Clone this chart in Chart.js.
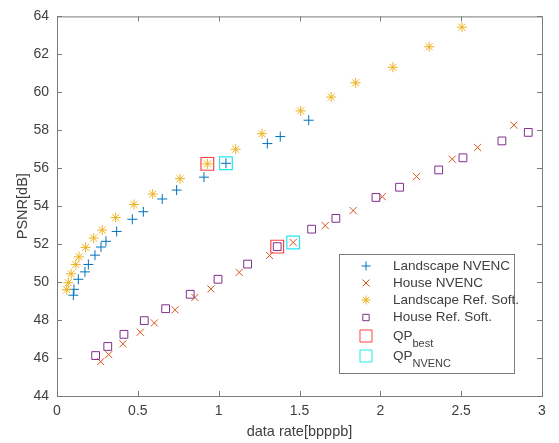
<!DOCTYPE html>
<html>
<head>
<meta charset="utf-8">
<script src="https://cdn.jsdelivr.net/npm/chart.js@4/dist/chart.umd.min.js"></script>
<style>
  html, body { margin: 0; padding: 0; background: #fff; }
  #wrap { width: 559px; height: 443px; }
</style>
</head>
<body>
<div id="wrap"><canvas id="c" width="559" height="443"></canvas></div>
<script>
// values
const landNvencX = [0.101, 0.105, 0.132, 0.173, 0.194, 0.235, 0.272, 0.303, 0.369, 0.466, 0.534, 0.651, 0.740, 0.909, 1.045, 1.301, 1.381, 1.557];
const landNvencY = [49.31, 49.62, 50.15, 50.54, 50.93, 51.42, 51.85, 52.15, 52.67, 53.31, 53.71, 54.38, 54.85, 55.53, 56.26, 57.30, 57.67, 58.53];

const houseNvencX = [0.270, 0.320, 0.408, 0.515, 0.602, 0.730, 0.853, 0.952, 1.127, 1.315, 1.461, 1.659, 1.832, 2.012, 2.224, 2.445, 2.602, 2.826];
const houseNvencY = [45.81, 46.18, 46.75, 47.36, 47.85, 48.54, 49.19, 49.64, 50.51, 51.40, 52.09, 52.98, 53.77, 54.50, 55.56, 56.48, 57.09, 58.27];

const landRefX = [0.060, 0.070, 0.087, 0.116, 0.136, 0.177, 0.227, 0.280, 0.363, 0.476, 0.592, 0.761, 0.930, 1.105, 1.268, 1.507, 1.696, 1.847, 2.078, 2.302, 2.505];
const landRefY = [49.60, 49.97, 50.44, 50.93, 51.33, 51.83, 52.32, 52.74, 53.40, 54.09, 54.64, 55.45, 56.23, 57.00, 57.82, 59.02, 59.75, 60.50, 61.32, 62.40, 63.43];

const houseRefX = [0.239, 0.314, 0.414, 0.540, 0.672, 0.824, 0.996, 1.179, 1.362, 1.575, 1.725, 1.973, 2.119, 2.361, 2.511, 2.752, 2.915];
const houseRefY = [46.13, 46.61, 47.25, 47.97, 48.60, 49.36, 50.15, 50.95, 51.87, 52.79, 53.36, 54.46, 55.00, 55.91, 56.55, 57.44, 57.89];

const qpBestX = [0.930, 1.362];
const qpBestY = [56.23, 51.87];
const qpNvencX = [1.045, 1.461];
const qpNvencY = [56.26, 52.09];

const xTicks = [0, 0.5, 1, 1.5, 2, 2.5, 3];
const yTicks = [44, 46, 48, 50, 52, 54, 56, 58, 60, 62, 64];

const FONT = "'Liberation Sans', Arial, Helvetica, sans-serif";
const TEXT = "#404040";
const AXIS = "#7a7a7a";

function pts(xs, ys) {
  return xs.map((x, i) => ({ x, y: ys[i] }));
}

// legend entries: label, optional subscript, marker style
const legendItems = [
  { label: "Landscape NVENC", style: "cross", color: "#0072BD", r: 4.5 },
  { label: "House NVENC", style: "crossRot", color: "#D95319", r: 5 },
  { label: "Landscape Ref. Soft.", style: "star", color: "#EDB120", r: 4.5 },
  { label: "House Ref. Soft.", style: "rect", color: "#7E2F8E", r: 4.5 },
  { label: "QP", sub: "best", style: "rect", color: "#ff4040", r: 8.5 },
  { label: "QP", sub: "NVENC", style: "rect", color: "#20e8f0", r: 8.5 },
];

function drawMarker(ctx, style, color, r, x, y, lw) {
  ctx.save();
  ctx.strokeStyle = color;
  ctx.fillStyle = "rgba(0,0,0,0)";
  ctx.lineWidth = lw || 1;
  Chart.helpers.drawPoint(ctx, { pointStyle: style, radius: r, rotation: 0, borderWidth: lw || 1 }, x, y);
  ctx.restore();
}

// axes box with inward ticks on all four sides (matlab look)
const boxPlugin = {
  id: "box",
  afterDatasetsDraw(chart) {
    const { ctx, chartArea: a, scales } = chart;
    ctx.save();
    ctx.strokeStyle = AXIS;
    ctx.lineWidth = 1;
    ctx.strokeRect(a.left + 0.5, a.top + 0.5, a.right - a.left, a.bottom - a.top);
    const tl = 5;
    ctx.beginPath();
    xTicks.forEach((v) => {
      const px = Math.round(scales.x.getPixelForValue(v)) + 0.5;
      ctx.moveTo(px, a.bottom); ctx.lineTo(px, a.bottom - tl);
      ctx.moveTo(px, a.top); ctx.lineTo(px, a.top + tl);
    });
    yTicks.forEach((v) => {
      const py = Math.round(scales.y.getPixelForValue(v)) + 0.5;
      ctx.moveTo(a.left, py); ctx.lineTo(a.left + tl, py);
      ctx.moveTo(a.right, py); ctx.lineTo(a.right - tl, py);
    });
    ctx.stroke();
    ctx.restore();
  },
};

const legendPlugin = {
  id: "boxLegend",
  afterDraw(chart) {
    const { ctx } = chart;
    const bx = 339, by = 254, bw = 175, bh = 119;
    ctx.save();
    ctx.fillStyle = "#fff";
    ctx.fillRect(bx, by, bw, bh);
    ctx.strokeStyle = AXIS;
    ctx.lineWidth = 1;
    ctx.strokeRect(bx + 0.5, by + 0.5, bw, bh);
    const rows = [266, 283, 300, 317.5, 336, 356];
    legendItems.forEach((it, i) => {
      const y = rows[i];
      drawMarker(ctx, it.style, it.color, it.r, 366, y, 1);
      ctx.fillStyle = TEXT;
      ctx.textBaseline = "middle";
      ctx.textAlign = "left";
      ctx.font = "13.5px " + FONT;
      ctx.fillText(it.label, 393, y);
      if (it.sub) {
        const w = ctx.measureText(it.label).width;
        ctx.font = "11px " + FONT;
        ctx.fillText(it.sub, 393 + w, y + 8);
      }
    });
    ctx.restore();
  },
};

new Chart(document.getElementById("c"), {
  type: "scatter",
  data: {
    datasets: [
      { label: "Landscape NVENC", data: pts(landNvencX, landNvencY), pointStyle: "cross", pointRadius: 5, borderColor: "#0072BD", backgroundColor: "rgba(0,0,0,0)", pointBorderWidth: 1, order: 6 },
      { label: "House NVENC", data: pts(houseNvencX, houseNvencY), pointStyle: "crossRot", pointRadius: 5, borderColor: "#D95319", backgroundColor: "rgba(0,0,0,0)", pointBorderWidth: 1, order: 5 },
      { label: "Landscape Ref. Soft.", data: pts(landRefX, landRefY), pointStyle: "star", pointRadius: 5, borderColor: "#EDB120", backgroundColor: "rgba(0,0,0,0)", pointBorderWidth: 1, order: 4 },
      { label: "House Ref. Soft.", data: pts(houseRefX, houseRefY), pointStyle: "rect", pointRadius: 5.5, borderColor: "#7E2F8E", backgroundColor: "rgba(0,0,0,0)", pointBorderWidth: 1, order: 3 },
      { label: "QP best", data: pts(qpBestX, qpBestY), pointStyle: "rect", pointRadius: 9, borderColor: "#ff4040", backgroundColor: "rgba(0,0,0,0)", pointBorderWidth: 1.2, order: 2 },
      { label: "QP NVENC", data: pts(qpNvencX, qpNvencY), pointStyle: "rect", pointRadius: 9, borderColor: "#20e8f0", backgroundColor: "rgba(0,0,0,0)", pointBorderWidth: 1.2, order: 1 },
    ],
  },
  options: {
    responsive: false,
    animation: false,
    events: [],
    layout: { padding: { left: 0, right: 17, top: 13, bottom: 0 } },
    plugins: { legend: { display: false }, tooltip: { enabled: false } },
    scales: {
      x: {
        type: "linear",
        min: 0,
        max: 3,
        afterBuildTicks: (s) => { s.ticks = xTicks.map((v) => ({ value: v })); },
        afterFit: (s) => { s.height = 47; },
        grid: { display: false, drawTicks: false },
        border: { display: false },
        ticks: { color: TEXT, font: { family: FONT, size: 14 }, padding: 7, maxRotation: 0, callback: (v) => String(v) },
        title: { display: true, text: "data rate[bpppb]", color: TEXT, font: { family: FONT, size: 14.5 }, padding: { top: 0, bottom: 2 } },
      },
      y: {
        type: "linear",
        min: 44,
        max: 64,
        afterBuildTicks: (s) => { s.ticks = yTicks.map((v) => ({ value: v })); },
        afterFit: (s) => { s.width = 57; },
        grid: { display: false, drawTicks: false },
        border: { display: false },
        ticks: { color: TEXT, font: { family: FONT, size: 14 }, padding: 8, callback: (v) => String(v) },
        title: { display: true, text: "PSNR[dB]", color: TEXT, font: { family: FONT, size: 14.5 }, padding: { top: 14, bottom: 0 } },
      },
    },
  },
  plugins: [boxPlugin, legendPlugin],
});
</script>
</body>
</html>
